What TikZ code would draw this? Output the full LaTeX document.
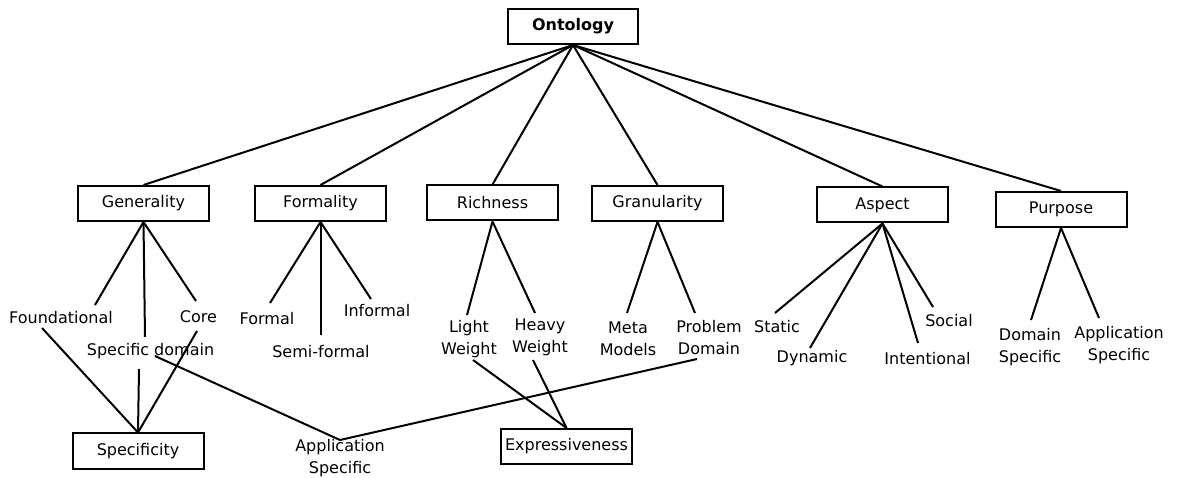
\documentclass[tikz,border=0pt]{standalone}
\usepackage{fontspec}
\setmainfont{DejaVu Sans}
\begin{document}
\begin{tikzpicture}[x=1pt,y=-1pt,
  box/.style={draw,line width=2pt,minimum width=131pt,minimum height=35pt,
    inner sep=0pt,font=\fontsize{16}{19}\selectfont},
  lbl/.style={inner sep=0pt,align=center,anchor=base,
    font=\fontsize{16}{22}\selectfont},
  edge/.style={line width=2pt}]
\useasboundingbox (0,0) rectangle (1179,478);

% boxes
\node[box,minimum width=130pt,font=\fontsize{16}{19}\selectfont\bfseries] (onto) at (573,26.5) {Ontology};
\node[box] (gen)  at (143.5,203.5) {Generality};
\node[box] (form) at (320.5,203.5) {Formality};
\node[box] (rich) at (492.5,203)   {Richness};
\node[box] (gran) at (657.5,203.5) {Granularity};
\node[box] (asp)  at (882.5,205)   {Aspect};
\node[box] (purp) at (1061,209.5)  {Purpose};
\node[box] (spec) at (138,451)     {Specificity};
\node[box] (expr) at (566.5,446.5) {Expressiveness};

% labels (multi-line ones are placed by the baseline of their last line)
\node[lbl] (found) at (61,324)    {Foundational};
\node[lbl] (core)  at (198.5,323) {Core};
\node[lbl] (sdom)  at (150.5,356) {Specific domain};
\node[lbl] (fml)   at (267,325)   {Formal};
\node[lbl] (semi)  at (321,358)   {Semi-formal};
\node[lbl] (infml) at (377,317)   {Informal};
\node[lbl] (light) at (469,355)   {Light\\Weight};
\node[lbl] (heavy) at (540,353)   {Heavy\\Weight};
\node[lbl] (meta)  at (628,356)   {Meta\\Models};
\node[lbl] (prob)  at (709,355)   {Problem\\Domain};
\node[lbl] (apps)  at (340,473)   {Application\\Specific};
\node[lbl] (stat)  at (777,333)   {Static};
\node[lbl] (dyn)   at (812,363)   {Dynamic};
\node[lbl] (intn)  at (927.5,365) {Intentional};
\node[lbl] (soc)   at (949,327)   {Social};
\node[lbl] (doms)  at (1030,363)  {Domain\\Specific};
\node[lbl] (appr)  at (1119,361)  {Application\\Specific};

% connector ends beside the labels
\coordinate (found-t) at (95,305);
\coordinate (found-b) at (42,328);
\coordinate (sdom-t)  at (145,337);
\coordinate (sdom-b)  at (139,369);
\coordinate (sdom-r)  at (155,356);
\coordinate (core-t)  at (196,301);
\coordinate (core-b)  at (197,331);
\coordinate (fml-t)   at (270,303);
\coordinate (semi-t)  at (320.5,335);
\coordinate (infml-t) at (371,299);
\coordinate (light-t) at (467,315);
\coordinate (light-b) at (473,360);
\coordinate (heavy-t) at (535,313);
\coordinate (heavy-b) at (533,360);
\coordinate (meta-t)  at (627,313);
\coordinate (prob-t)  at (695,313);
\coordinate (prob-b)  at (697,359);
\coordinate (apps-t)  at (340,440);
\coordinate (stat-t)  at (775,313);
\coordinate (dyn-t)   at (810,348);
\coordinate (intn-t)  at (918,343);
\coordinate (soc-t)   at (933,307);
\coordinate (doms-t)  at (1031,320);
\coordinate (appr-t)  at (1099,318);

% top level
\foreach \n in {gen,form,rich,gran,asp,purp}
  \draw[edge] (onto.south) -- (\n.north);

% Generality
\draw[edge] (gen.south) -- (found-t);
\draw[edge] (gen.south) -- (sdom-t);
\draw[edge] (gen.south) -- (core-t);
\draw[edge] (found-b) -- (spec.north);
\draw[edge] (sdom-b) -- (spec.north);
\draw[edge] (core-b) -- (spec.north);
\draw[edge] (sdom-r) -- (apps-t);

% Formality
\draw[edge] (form.south) -- (fml-t);
\draw[edge] (form.south) -- (semi-t);
\draw[edge] (form.south) -- (infml-t);

% Richness
\draw[edge] (rich.south) -- (light-t);
\draw[edge] (rich.south) -- (heavy-t);
\draw[edge] (light-b) -- (expr.north);
\draw[edge] (heavy-b) -- (expr.north);

% Granularity
\draw[edge] (gran.south) -- (meta-t);
\draw[edge] (gran.south) -- (prob-t);
\draw[edge] (prob-b) -- (apps-t);

% Aspect
\draw[edge] (asp.south) -- (stat-t);
\draw[edge] (asp.south) -- (dyn-t);
\draw[edge] (asp.south) -- (intn-t);
\draw[edge] (asp.south) -- (soc-t);

% Purpose
\draw[edge] (purp.south) -- (doms-t);
\draw[edge] (purp.south) -- (appr-t);
\end{tikzpicture}
\end{document}
